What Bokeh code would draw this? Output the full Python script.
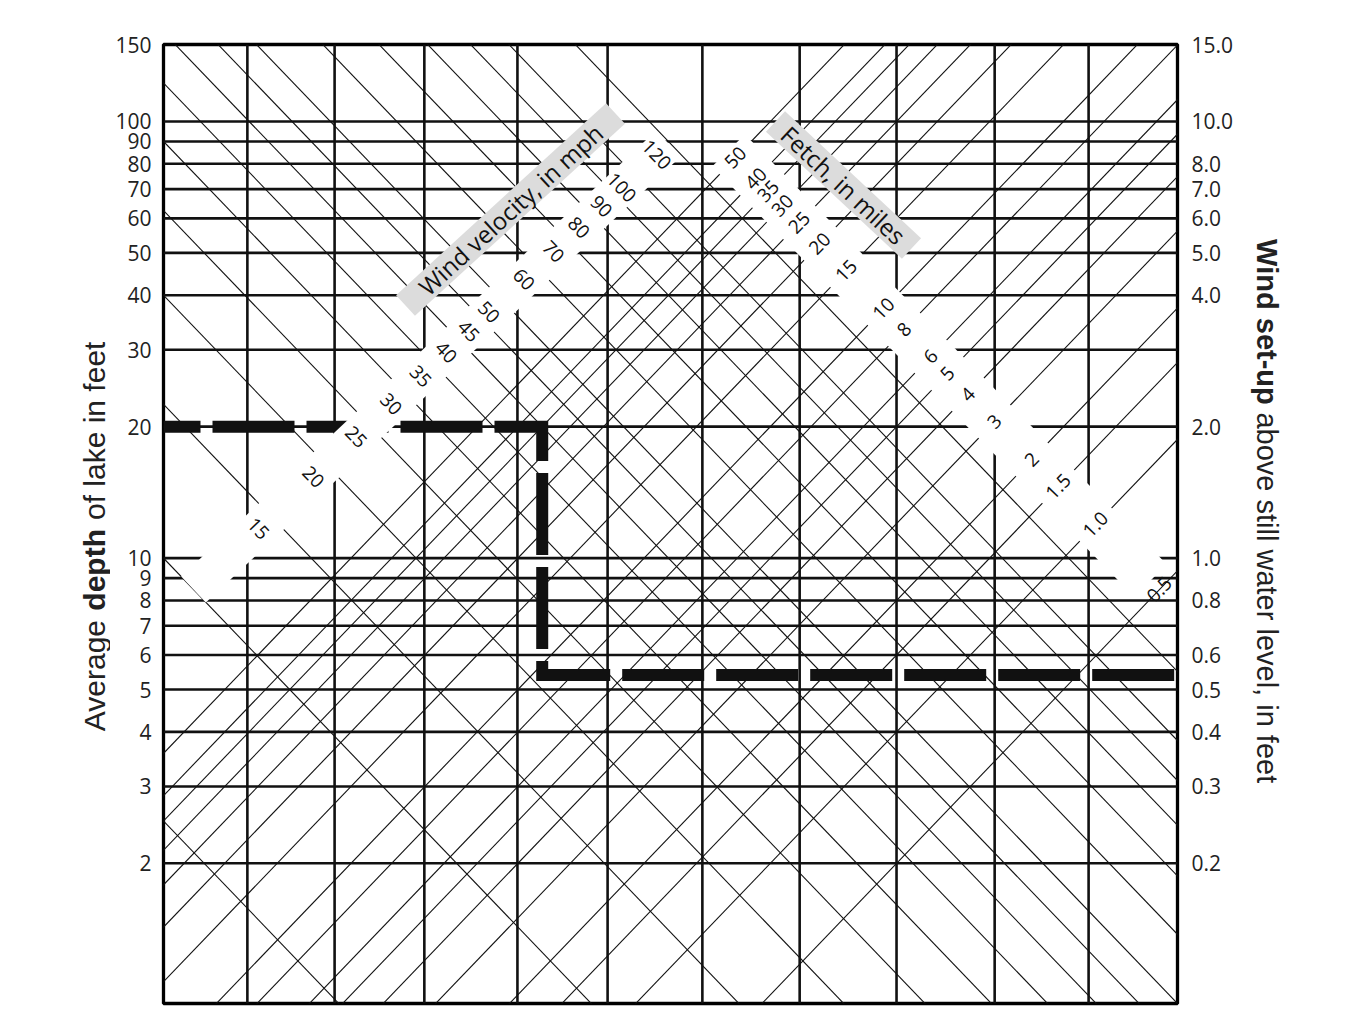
import math
from bokeh.plotting import figure
from bokeh.layouts import row
from bokeh.models import Range1d, LogAxis, FixedTicker, CustomJSTickFormatter, ColumnDataSource
from bokeh.core.properties import value
from bokeh.embed import file_html
from bokeh.resources import INLINE

# ---------------- data ----------------
depth_ticks = [150, 100, 90, 80, 70, 60, 50, 40, 30, 20, 10, 9, 8, 7, 6, 5, 4, 3, 2]
depth_grid = [100, 90, 80, 70, 60, 50, 40, 30, 20, 10, 9, 8, 7, 6, 5, 4, 3, 2]
setup_ticks = [15.0, 10.0, 8.0, 7.0, 6.0, 5.0, 4.0, 2.0, 1.0, 0.8, 0.6, 0.5, 0.4, 0.3, 0.2]
wind_labeled = [15, 20, 25, 30, 35, 40, 45, 50, 60, 70, 80, 90, 100, 120]
wind_unlabeled = [5, 10]
fetch_values = [0.5, 1.0, 1.5, 2, 3, 4, 5, 6, 8, 10, 15, 20, 25, 30, 35, 40, 50]
fetch_labels = ["0.5", "1.0", "1.5", "2", "3", "4", "5", "6", "8", "10",
                "15", "20", "25", "30", "35", "40", "50"]
vertical_grid_u = [0.200, 0.408, 0.622, 0.844, 1.059, 1.285, 1.517, 1.748, 1.982, 2.206]
example_depth = 20
example_wind = 40
example_setup = 0.54
left_title = [("Average", "normal"), ("depth", "bold"), ("of lake in feet", "normal")]
right_title = [("Wind set-up", "bold"), ("above still water level, in feet", "normal")]

# nomogram constants (Zuider Zee: S = V^2 F / (1400 D))
ZUIDER_K = 1400.0
LEFT_EDGE_FACTOR = 0.1        # wind line V meets the left edge at D = 0.1 V^2
AXIS_RATIO = 10.0             # left-axis value = 10 x set-up
A_W = math.log10(LEFT_EDGE_FACTOR)
C_F = math.log10(AXIS_RATIO) - math.log10(ZUIDER_K) - A_W
XMAX = 2.418

# ---------------- layout ----------------
LEFT_W, RIGHT_W = 110, 110
FRAME_W, FRAME_H = 1014, 959
Y_MIN, Y_MAX = 0.955, 150.05
FX0, FY0 = 163, 44            # page position of the frame's top-left corner
MAIN_BL, MAIN_BR, MAIN_BB = FX0 - LEFT_W, 60, 26
FRAME_BOTTOM = FY0 + FRAME_H
RIGHT_X0 = LEFT_W + MAIN_BL + FRAME_W + MAIN_BR
PX_U = FRAME_W / XMAX
PX_DEC = FRAME_H / (math.log10(Y_MAX) - math.log10(Y_MIN))


def u_at(px):
    return (px - FX0) / PX_U


def v_at(py):
    return 10 ** (math.log10(Y_MAX) - (py - FY0) / PX_DEC)


def px_of(u):
    return FX0 + u * PX_U


def py_of(v):
    return FY0 + (math.log10(Y_MAX) - math.log10(v)) * PX_DEC


def rect_from_ends(p1, p2):
    cx, cy = (p1[0] + p2[0]) / 2, (p1[1] + p2[1]) / 2
    length = math.hypot(p2[0] - p1[0], p2[1] - p1[1])
    ang = -math.atan2(p2[1] - p1[1], p2[0] - p1[0])
    return u_at(cx), v_at(cy), length, ang


p = figure(frame_width=FRAME_W, frame_height=FRAME_H,
           x_range=Range1d(0, XMAX), y_range=Range1d(Y_MIN, Y_MAX),
           y_axis_type="log", x_axis_location=None,
           toolbar_location=None, output_backend="svg",
           min_border_left=MAIN_BL, min_border_right=MAIN_BR,
           min_border_top=FY0, min_border_bottom=MAIN_BB,
           background_fill_color="white", border_fill_color="white")
p.grid.visible = False
p.outline_line_color = "black"
p.outline_line_width = 3.3
p.outline_line_alpha = 1.0

LINE = "#111111"
U0, U1 = -0.6, XMAX + 0.6

# wind-velocity lines  (log D = 2 log V + A_W - u)
wind_all = sorted(wind_unlabeled + wind_labeled)
p.segment(x0=[U0] * len(wind_all), x1=[U1] * len(wind_all),
          y0=[10 ** (2 * math.log10(v) + A_W - U0) for v in wind_all],
          y1=[10 ** (2 * math.log10(v) + A_W - U1) for v in wind_all],
          line_color=LINE, line_width=1.1)

# fetch lines  (log Y = log F + C_F + u)
p.segment(x0=[U0] * len(fetch_values), x1=[U1] * len(fetch_values),
          y0=[10 ** (math.log10(f) + C_F + U0) for f in fetch_values],
          y1=[10 ** (math.log10(f) + C_F + U1) for f in fetch_values],
          line_color=LINE, line_width=1.1)

# grid
p.segment(x0=[0] * len(depth_grid), x1=[XMAX] * len(depth_grid),
          y0=depth_grid, y1=depth_grid, line_color=LINE, line_width=2.6)
p.segment(x0=vertical_grid_u, x1=vertical_grid_u,
          y0=[Y_MIN] * len(vertical_grid_u), y1=[Y_MAX] * len(vertical_grid_u),
          line_color=LINE, line_width=2.6)

# worked example
ex_u = 2 * math.log10(example_wind) + A_W - math.log10(example_depth)
ex_y2 = example_setup * AXIS_RATIO
p.line(x=[0, ex_u, ex_u, XMAX], y=[example_depth, example_depth, ex_y2, ex_y2],
       line_color="#111111", line_width=12, line_dash="82 12", line_dash_offset=45,
       line_join="miter", line_cap="butt")

# white label bands
LEFT_ARM = ((193, 589), (668, 143))
RIGHT_ARM = ((728, 150), (1150, 580))
bands = [rect_from_ends(*LEFT_ARM) + (36,), rect_from_ends(*RIGHT_ARM) + (46,)]
p.rect(x=[b[0] for b in bands], y=[b[1] for b in bands],
       width=[b[2] for b in bands], height=[b[4] for b in bands],
       angle=[b[3] for b in bands], width_units="screen", height_units="screen",
       fill_color="white", line_color=None)

# wind labels: where each wind line crosses the left band, nudged down the band
uE, lE = u_at(LEFT_ARM[0][0]), math.log10(v_at(LEFT_ARM[0][1]))
uT, lT = u_at(LEFT_ARM[1][0]), math.log10(v_at(LEFT_ARM[1][1]))
bL = (lT - lE) / (uT - uE)
aL = lE - bL * uE
dx, dy = LEFT_ARM[0][0] - LEFT_ARM[1][0], LEFT_ARM[0][1] - LEFT_ARM[1][1]
dn = math.hypot(dx, dy)
dx, dy = dx / dn, dy / dn
wx, wy = [], []
for v in wind_labeled:
    us = (2 * math.log10(v) + A_W - aL) / (1 + bL)
    ls = aL + bL * us
    X = px_of(us) + 18 * dx
    Y = py_of(10 ** ls) + 18 * dy
    wx.append(u_at(X))
    wy.append(v_at(Y))
line_ang = math.atan(PX_DEC / PX_U)
p.text(x=wx, y=wy, text=[str(v) for v in wind_labeled], angle=-line_ang,
       text_font=value("Open Sans"), text_font_size="19px", text_color="#111111",
       text_align="center", text_baseline="middle")

# fetch labels: where each fetch line crosses the right band
uR1, lR1 = u_at(RIGHT_ARM[0][0]), math.log10(v_at(RIGHT_ARM[0][1]))
uR2, lR2 = u_at(RIGHT_ARM[1][0]), math.log10(v_at(RIGHT_ARM[1][1]))
bR = (lR2 - lR1) / (uR2 - uR1)
aR = lR1 - bR * uR1
fx, fy = [], []
for f in fetch_values:
    us = (aR - C_F - math.log10(f)) / (1 - bR)
    fx.append(us)
    fy.append(10 ** (aR + bR * us))
p.text(x=fx, y=fy, text=fetch_labels, angle=line_ang,
       text_font=value("Open Sans"), text_font_size="19px", text_color="#111111",
       text_align="center", text_baseline="middle")

# grey title boxes
WIND_BOX = ((405, 305), (615, 113))
FETCH_BOX = ((775, 121), (911, 248))
boxes = [rect_from_ends(*WIND_BOX), rect_from_ends(*FETCH_BOX)]
p.rect(x=[b[0] for b in boxes], y=[b[1] for b in boxes],
       width=[b[2] for b in boxes], height=[28, 28], angle=[b[3] for b in boxes],
       width_units="screen", height_units="screen",
       fill_color="#dcdcdc", line_color=None)
p.text(x=[b[0] for b in boxes], y=[b[1] for b in boxes],
       text=["Wind velocity, in mph", "Fetch, in miles"], angle=[b[3] for b in boxes],
       text_font=value("Open Sans"), text_font_size="24px", text_color="#111111",
       text_align="center", text_baseline="middle")

# axes
ax = p.yaxis[0]
ax.ticker = FixedTicker(ticks=depth_ticks)
ax.formatter = CustomJSTickFormatter(code="return tick.toFixed(0);")
raxis = LogAxis(ticker=FixedTicker(ticks=[round(s * AXIS_RATIO, 6) for s in setup_ticks]),
                formatter=CustomJSTickFormatter(code="return (tick/10).toFixed(1);"))
p.add_layout(raxis, "right")
for a, so in ((ax, 12), (raxis, 14)):
    a.axis_line_color = None
    a.major_tick_line_color = None
    a.minor_tick_line_color = None
    a.major_tick_out = 0
    a.major_tick_in = 0
    a.minor_tick_out = 0
    a.major_label_standoff = so
    a.major_label_text_font = "Open Sans"
    a.major_label_text_font_size = "21px"
    a.major_label_text_color = "#222222"

# ---------------- axis titles in narrow side panels ----------------
# (the row aligns the side panels' frames with the main frame: page y 44..1003)
EM = {"Average": 3.724, "depth": 2.722, "of lake in feet": 5.948,
      "Wind set-up": 5.722, "above still water level, in feet": 12.705}
SPACE = 0.3


def side_panel(width, parts, size, x_page, y_center_page, angle, x0_page):
    f = figure(title=None, frame_width=width, frame_height=FRAME_H,
               x_range=Range1d(0, width), y_range=Range1d(0, FRAME_H),
               toolbar_location=None, output_backend="svg",
               x_axis_location=None, y_axis_location=None,
               min_border=0, min_border_left=0, min_border_right=0,
               min_border_top=FY0, min_border_bottom=MAIN_BB,
               background_fill_color="white", border_fill_color="white")
    f.grid.visible = False
    f.outline_line_color = None
    total = sum(EM[t] for t, _ in parts) + SPACE * (len(parts) - 1)
    up = angle > 0
    sign = -1 if up else 1          # page-y direction of reading
    pos = y_center_page - sign * total * size / 2
    xs, ys, ts, st = [], [], [], []
    for t, style in parts:
        w = EM[t] * size
        xs.append(x_page - x0_page)
        ys.append(FRAME_BOTTOM - (pos + sign * w / 2))
        ts.append(t)
        st.append(style)
        pos += sign * (w + SPACE * size)
    src = ColumnDataSource(dict(x=xs, y=ys, text=ts, style=st))
    f.text(x="x", y="y", text="text", source=src, angle=angle,
           text_font=value("Liberation Sans"), text_font_style="style",
           text_font_size=f"{size}px", text_color="#222222",
           text_align="center", text_baseline="middle")
    return f


left_fig = side_panel(LEFT_W, left_title, 30, 94, 536, math.pi / 2, 0)
right_fig = side_panel(RIGHT_W, right_title, 29, 1266, 510, -math.pi / 2, RIGHT_X0)

layout = row(left_fig, p, right_fig, spacing=0)
open("out.html", "w").write(file_html(layout, INLINE))
